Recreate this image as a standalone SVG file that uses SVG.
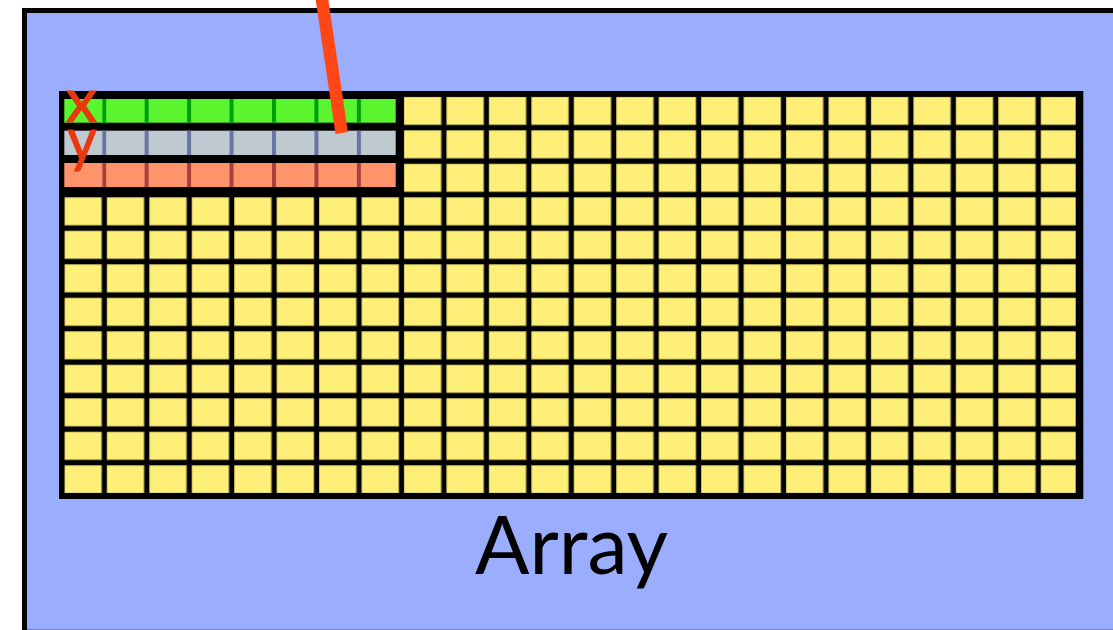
<svg xmlns="http://www.w3.org/2000/svg" width="1113" height="630" viewBox="0 0 1113 630">
  <style>
    .frame { fill: #9BADFD; stroke: #000; stroke-width: 5; }
    .ink { fill: #000; }
    .label { font-family: Lato, "Liberation Sans", sans-serif; fill: #000; }
    .var { font-family: Lato, "Liberation Sans", sans-serif; fill: #E8380D; stroke: #E8380D; stroke-width: 1.2; }
    .pointer { stroke: #FF4615; stroke-width: 12.5; stroke-linecap: butt; fill: none; }
  </style>
  <defs>
    <!-- one array slot, repeated across the whole grid -->
    <pattern id="slot" patternUnits="userSpaceOnUse" x="64.3" y="96.7" width="42.45" height="33.5">
      <rect x="0" y="0" width="37.4" height="28" fill="#FEEF79" stroke="#8E8748" stroke-width="0.8"/>
    </pattern>
    <!-- column separators inside the highlighted rows -->
    <pattern id="sepGreen" patternUnits="userSpaceOnUse" x="102.2" y="0" width="42.45" height="40">
      <rect x="0" y="0" width="4" height="40" fill="#009E0B"/>
    </pattern>
    <pattern id="sepGray" patternUnits="userSpaceOnUse" x="102.2" y="0" width="42.45" height="40">
      <rect x="0" y="0" width="4" height="40" fill="#6674A6"/>
    </pattern>
    <pattern id="sepRed" patternUnits="userSpaceOnUse" x="102.2" y="0" width="42.45" height="40">
      <rect x="0" y="0" width="4" height="40" fill="#A93E3C"/>
    </pattern>
  </defs>

  <rect width="1113" height="630" fill="#fff"/>

  <!-- surrounding memory region -->
  <g id="region">
    <rect class="frame" x="24.5" y="10.5" width="1200" height="640"/>
    <line x1="27" y1="629.5" x2="1113" y2="629.5" stroke="#7280C0" stroke-width="1"/>
  </g>

  <!-- the array of slots -->
  <g id="array">
    <rect class="ink" x="59" y="91" width="1024.3" height="408"/>
    <rect x="64.3" y="96.7" width="1011.4" height="396.3" fill="url(#slot)"/>
  </g>

  <!-- highlighted rows x, y and the result row -->
  <g id="rows">
    <rect class="ink" x="59" y="91" width="344.3" height="105.7"/>
    <g id="row-x">
      <rect x="64.3" y="99" width="331.4" height="23.7" fill="#5AF52E"/>
      <rect x="102.2" y="99" width="293.5" height="23.7" fill="url(#sepGreen)"/>
    </g>
    <g id="row-y">
      <rect x="64.3" y="130.7" width="331.4" height="24.3" fill="#BFC9D0"/>
      <rect x="102.2" y="130.7" width="293.5" height="24.3" fill="url(#sepGray)"/>
    </g>
    <g id="row-out">
      <rect x="64.3" y="163" width="331.4" height="24" fill="#FF936A"/>
      <rect x="102.2" y="163" width="293.5" height="24" fill="url(#sepRed)"/>
    </g>
    <text class="var" x="81.5" y="122" font-size="60" text-anchor="middle" textLength="31" lengthAdjust="spacingAndGlyphs">x</text>
    <text class="var" x="82" y="161" font-size="60" text-anchor="middle" textLength="29" lengthAdjust="spacingAndGlyphs">y</text>
  </g>

  <g id="caption">
    <text class="label" x="571.5" y="574" font-size="82" text-anchor="middle" textLength="193" lengthAdjust="spacingAndGlyphs">Array</text>
  </g>

  <!-- pointer coming in from above -->
  <g id="connectors">
    <line class="pointer" x1="321.3" y1="-5" x2="341.7" y2="133"/>
  </g>
</svg>
